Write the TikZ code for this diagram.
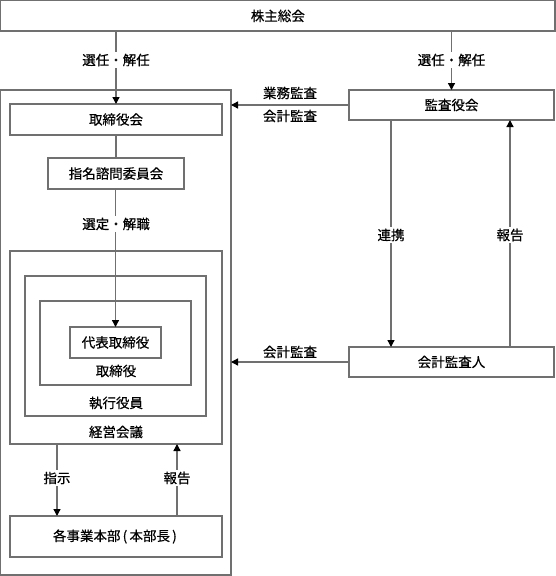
\documentclass[tikz,border=0pt]{standalone}
\usepackage{fontspec}
\setmainfont[FakeBold=0.6]{Noto Sans CJK JP}
\usetikzlibrary{arrows.meta}
\definecolor{linegray}{HTML}{707070}
\tikzset{
  box/.style={draw=linegray, line width=1.3pt, rectangle, inner sep=0pt, outer sep=0pt, fill=white},
  txt/.style={inner sep=1pt, font=\fontsize{13.5}{16}\selectfont, text=black},
  lbl/.style={txt, fill=white, inner sep=2pt},
  conn/.style={draw=linegray, line width=1.3pt},
  arr/.style={conn, -{Triangle[width=7pt,length=7pt,color=black]}},
}
\newcommand{\boxat}[5]{% name, x1, y1, x2, y2
  \node[box, minimum width={#4-#2}, minimum height={#5-#3}] (#1) at ({(#2+#4)/2},{(#3+#5)/2}) {};}
\newcommand{\emparen}[1]{\makebox[9pt]{#1}}
\begin{document}
\begin{tikzpicture}[x=1pt,y=-1pt]
\useasboundingbox (0,0) rectangle (556,576);
% boxes
\boxat{sh}{0.7}{0.7}{555}{31}
\boxat{outer}{0.7}{90}{231}{575}
\boxat{bod}{10}{104}{222}{135}
\boxat{nom}{48}{158}{184}{189}
\boxat{mgmt}{10}{251}{222}{444}
\boxat{exec}{25}{276}{206}{416}
\boxat{dirs}{40}{301}{191}{385}
\boxat{rep}{70}{327}{161}{358}
\boxat{div}{10}{516}{222}{557}
\boxat{kansa}{349}{90}{554}{120}
\boxat{audit}{349}{347}{554}{377}
% box texts
\node[txt] (tsh) at (sh) {株主総会};
\node[txt] (tbod) at (bod) {取締役会};
\node[txt] (tnom) at (nom) {指名諮問委員会};
\node[txt] (trep) at (rep) {代表取締役};
\node[txt] (tdirs) at (116,371) {取締役};
\node[txt] (texec) at (116,403) {執行役員};
\node[txt] (tmgmt) at (116,432) {経営会議};
\node[txt] (tdiv) at (div) {各事業本部\emparen{(}本部長\emparen{)}};
\node[txt] (tkansa) at (kansa) {監査役会};
\node[txt] (taudit) at (audit) {会計監査人};
% connectors
\draw[arr] (sh.south -| bod.north) -- (bod.north);
\node[lbl] (l1) at (116,60) {選任・解任};
\draw[arr] (sh.south -| kansa.north) -- (kansa.north);
\node[lbl] (l2) at (451.5,60) {選任・解任};
\draw[conn] (bod.south -| nom.north) -- (nom.north);
\draw[arr] (nom.south -| rep.north) -- (rep.north);
\node[lbl] (l3) at (116,224) {選定・解職};
\draw[arr] (kansa.west) -- (kansa.west -| outer.east);
\node[txt] (l4) at (290,93) {業務監査};
\node[txt] (l5) at (290,116) {会計監査};
\coordinate (kL) at (391,120);
\coordinate (kR) at (510,120);
\draw[arr] (kansa.south -| kL) -- (audit.north -| kL);
\node[lbl] (l6) at (391,235) {連携};
\draw[arr] (audit.north -| kR) -- (kansa.south -| kR);
\node[lbl] (l7) at (510,235) {報告};
\draw[arr] (audit.west) -- (audit.west -| outer.east);
\node[txt] (l8) at (290,352) {会計監査};
\coordinate (mL) at (57,444);
\coordinate (mR) at (177,444);
\draw[arr] (mgmt.south -| mL) -- (div.north -| mL);
\node[lbl] (l9) at (57,478) {指示};
\draw[arr] (div.north -| mR) -- (mgmt.south -| mR);
\node[lbl] (l10) at (177,478) {報告};
\end{tikzpicture}
\end{document}
